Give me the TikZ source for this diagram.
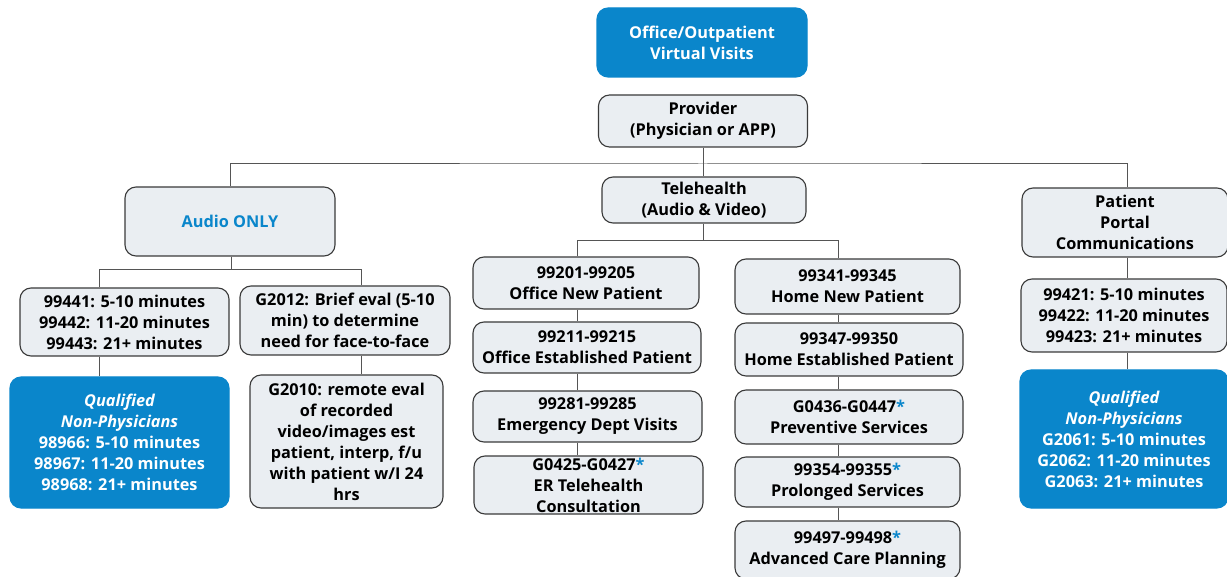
\documentclass[tikz,border=0pt]{standalone}
\usepackage{fontspec}
\setmainfont{Open Sans}
\usepackage{xcolor}
\usetikzlibrary{positioning}
\definecolor{vvblue}{HTML}{0A86CB}
\definecolor{boxfill}{HTML}{EAEEF2}
\definecolor{boxline}{HTML}{3A3A3A}
\definecolor{wireline}{HTML}{555555}
\newcommand{\boxfont}{\fontsize{16.3}{21}\selectfont\bfseries}
\newcommand{\bluestar}{\textcolor{vvblue}{*}}
\tikzstyle{block} = [draw=boxline, fill=boxfill, line width=1.1pt, rounded corners=11pt, align=center, inner sep=1pt, font=\boxfont, text=black]
\tikzstyle{blueblock} = [block, draw=vvblue, fill=vvblue, text=white]
\tikzstyle{wire} = [draw=wireline, line width=1pt]

\begin{document}
\begin{tikzpicture}[x=1pt, y=-1pt]
    \useasboundingbox (0,0) rectangle (1227,577);

    % We start by placing the blocks
    \node [blueblock, minimum width=210pt, minimum height=69pt] (visits) at (702,42.5) {Office/Outpatient\\Virtual Visits};
    \node [block, minimum width=209pt, minimum height=52pt] (provider) at (703,121) {Provider\\(Physician or APP)};

    \node [block, minimum width=210pt, minimum height=69pt, text=vvblue] (audio) at (230,221.5) {Audio ONLY};
    \node [block, minimum width=204pt, minimum height=46pt] (telehealth) at (704,200) {Telehealth\\(Audio \& Video)};
    \node [block, minimum width=206pt, minimum height=69pt] (portal) at (1125,222.5) {Patient\\Portal\\Communications};

    % audio only branch
    \node [block, minimum width=209pt, minimum height=68pt] (audio1) at (124.5,322) {99441: 5-10 minutes\\99442: 11-20 minutes\\99443: 21+ minutes};
    \node [block, minimum width=210pt, minimum height=69pt] (audio2) at (345,320.5) {G2012: Brief eval (5-10\\min) to determine\\need for face-to-face};
    \node [blueblock, minimum width=219pt, minimum height=131pt] (audioq) at (119.5,442.5) {\itshape Qualified\\\itshape Non-Physicians\\98966: 5-10 minutes\\98967: 11-20 minutes\\98968: 21+ minutes};
    \node [block, minimum width=193pt, minimum height=133pt] (audio3) at (346.5,441.5) {G2010: remote eval\\of recorded\\video/images est\\patient, interp, f/u\\with patient w/I 24\\hrs};

    % telehealth, office column
    \node [block, minimum width=226pt, minimum height=52pt] (office1) at (586,283) {99201-99205\\Office New Patient};
    \node [block, minimum width=228pt, minimum height=51pt] (office2) at (587,347.5) {99211-99215\\Office Established Patient};
    \node [block, minimum width=229pt, minimum height=51pt] (office3) at (587.5,416.5) {99281-99285\\Emergency Dept Visits};
    \node [block, minimum width=229pt, minimum height=58pt] (office4) at (588.5,485) {G0425-G0427\bluestar\\ER Telehealth\\Consultation};

    % telehealth, home column
    \node [block, minimum width=225pt, minimum height=55pt] (home1) at (847.5,286.5) {99341-99345\\Home New Patient};
    \node [block, minimum width=228pt, minimum height=53pt] (home2) at (849,349.5) {99347-99350\\Home Established Patient};
    \node [block, minimum width=228pt, minimum height=54pt] (home3) at (849,417) {G0436-G0447\bluestar\\Preventive Services};
    \node [block, minimum width=225pt, minimum height=50pt] (home4) at (847.5,482) {99354-99355\bluestar\\Prolonged Services};
    \node [block, minimum width=225pt, minimum height=58pt] (home5) at (847.5,550) {99497-99498\bluestar\\Advanced Care Planning};

    % patient portal branch
    \node [block, minimum width=206pt, minimum height=73pt] (portal1) at (1124,315.5) {99421: 5-10 minutes\\99422: 11-20 minutes\\99423: 21+ minutes};
    \node [blueblock, minimum width=208pt, minimum height=138pt] (portalq) at (1124,439) {\itshape Qualified\\\itshape Non-Physicians\\G2061: 5-10 minutes\\G2062: 11-20 minutes\\G2063: 21+ minutes};

    % Once the nodes are placed, connecting them is easy.
    \coordinate (bus) at (703,164);
    \coordinate (busr) at (1127,164);
    \draw [wire] (provider.south) -- (provider.south |- telehealth.north);
    \draw [wire] (audio.north) |- (bus) -- (busr) -- (busr |- portal.north);

    \coordinate (asplit) at (231,270);
    \coordinate (aleft) at (99,270);
    \coordinate (aright) at (361,270);
    \draw [wire] (audio.south -| asplit) -- (asplit);
    \draw [wire] (aleft |- audio1.north) -- (aleft) -- (aright) -- (aright |- audio2.north);
    \draw [wire] (aleft |- audio1.south) -- (aleft |- audioq.north);
    \draw [wire] (aright |- audio2.south) -- (aright |- audio3.north);

    \coordinate (tsplit) at (703,241);
    \coordinate (tleft) at (577,241);
    \coordinate (tright) at (838,241);
    \draw [wire] (telehealth.south -| tsplit) -- (tsplit);
    \draw [wire] (tleft |- office1.north) -- (tleft) -- (tright) -- (tright |- home1.north);
    \draw [wire] (tleft |- office1.south) -- (tleft |- office2.north);
    \draw [wire] (tleft |- office2.south) -- (tleft |- office3.north);
    \draw [wire] (tleft |- office3.south) -- (tleft |- office4.north);
    \draw [wire] (tright |- home1.south) -- (tright |- home2.north);
    \draw [wire] (tright |- home2.south) -- (tright |- home3.north);
    \draw [wire] (tright |- home3.south) -- (tright |- home4.north);
    \draw [wire] (tright |- home4.south) -- (tright |- home5.north);

    \draw [wire] (busr |- portal.south) -- (busr |- portal1.north);
    \draw [wire] (busr |- portal1.south) -- (busr |- portalq.north);
\end{tikzpicture}
\end{document}
